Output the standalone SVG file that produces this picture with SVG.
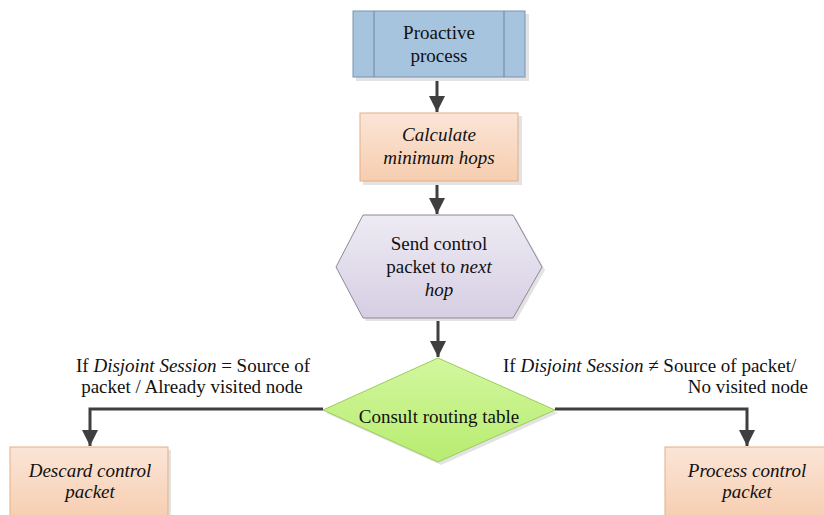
<svg xmlns="http://www.w3.org/2000/svg" width="824" height="515" viewBox="0 0 824 515">
<defs>
<linearGradient id="peach" x1="0" y1="0" x2="0" y2="1"><stop offset="0" stop-color="#FBE5D7"/><stop offset="1" stop-color="#F6CDAF"/></linearGradient>
<linearGradient id="lav" x1="0" y1="0" x2="0" y2="1"><stop offset="0" stop-color="#EEEBF4"/><stop offset="1" stop-color="#D6CEE3"/></linearGradient>
<linearGradient id="green" x1="0" y1="0" x2="0" y2="1"><stop offset="0" stop-color="#D2F79E"/><stop offset="1" stop-color="#B8EC70"/></linearGradient>
<marker id="arr" viewBox="0 0 10 10" refX="10" refY="5" markerWidth="5.5" markerHeight="5.5" markerUnits="strokeWidth" orient="auto"><path d="M0,0 L10,5 L0,10 z" fill="#3F3F3F"/></marker>
</defs>
<style>
text{font-family:'Liberation Serif',Tinos,'Noto Serif','Nimbus Roman','Nimbus Roman No9 L',FreeSerif,'DejaVu Serif',Times,serif;font-size:19px;fill:#111;}
.c{text-anchor:middle;}
.i{font-style:italic;}
.sh{fill:#E3E3E3;stroke:none;}
.conn{fill:none;stroke:#3F3F3F;stroke-width:3;marker-end:url(#arr);}
</style>
<rect width="824" height="515" fill="#fff"/>
<g id="connectors">
<line class="conn" x1="437" y1="78" x2="437" y2="112"/>
<line class="conn" x1="437" y1="182" x2="437" y2="214"/>
<line class="conn" x1="438" y1="319" x2="438" y2="357"/>
<polyline class="conn" points="323,409 90,409 90,446"/>
<polyline class="conn" points="555,409 747,409 747,446"/>
</g>
<g id="proactive">
<rect class="sh" x="356" y="14" width="173" height="67"/>
<rect x="353" y="11" width="172" height="66" fill="#A7C4DF" stroke="#7A93AD" stroke-width="1"/>
<line x1="374" y1="11" x2="374" y2="77" stroke="#6F849A"/>
<line x1="504" y1="11" x2="504" y2="77" stroke="#6F849A"/>
<text class="c" x="439" y="39">Proactive</text>
<text class="c" x="439" y="62">process</text>
</g>
<g id="calculate">
<rect class="sh" x="363" y="116" width="159" height="69"/>
<rect x="360" y="113" width="158" height="68" fill="url(#peach)" stroke="#E3AE84" stroke-width="1"/>
<text class="c i" x="439" y="141">Calculate</text>
<text class="c i" x="439" y="164">minimum hops</text>
</g>
<g id="send">
<polygon class="sh" points="366,218 516,218 545,270 516,321 366,321 339,270"/>
<polygon points="363,215 513,215 542,267 513,318 363,318 336,267" fill="url(#lav)" stroke="#8C8A96" stroke-width="1"/>
<text class="c" x="439" y="250">Send control</text>
<text class="c" x="439" y="273">packet to <tspan class="i">next</tspan></text>
<text class="c i" x="439" y="296">hop</text>
</g>
<g id="consult">
<polygon class="sh" points="441,361 558,413 441,465 326,413"/>
<polygon points="438,358 555,410 438,462 323,410" fill="url(#green)" stroke="#9ACD5C" stroke-width="1"/>
<text class="c" x="439" y="423">Consult routing table</text>
</g>
<g id="descard">
<rect class="sh" x="13" y="450" width="158" height="70"/>
<rect x="10" y="447" width="158" height="75" fill="url(#peach)" stroke="#E3AE84" stroke-width="1"/>
<text class="c i" x="90" y="477">Descard control</text>
<text class="c i" x="90" y="498">packet</text>
</g>
<g id="process">
<rect class="sh" x="668" y="450" width="160" height="70"/>
<rect x="665" y="447" width="162" height="75" fill="url(#peach)" stroke="#E3AE84" stroke-width="1"/>
<text class="c i" x="747" y="477">Process control</text>
<text class="c i" x="747" y="498">packet</text>
</g>
<g id="labels">
<text class="c" x="193" y="372">If <tspan class="i">Disjoint Session</tspan> = Source of</text>
<text class="c" x="192" y="393">packet / Already visited node</text>
<text x="503" y="372">If <tspan class="i">Disjoint Session</tspan> ≠ Source of packet/</text>
<text x="808" y="393" text-anchor="end">No visited node</text>
</g>
</svg>
